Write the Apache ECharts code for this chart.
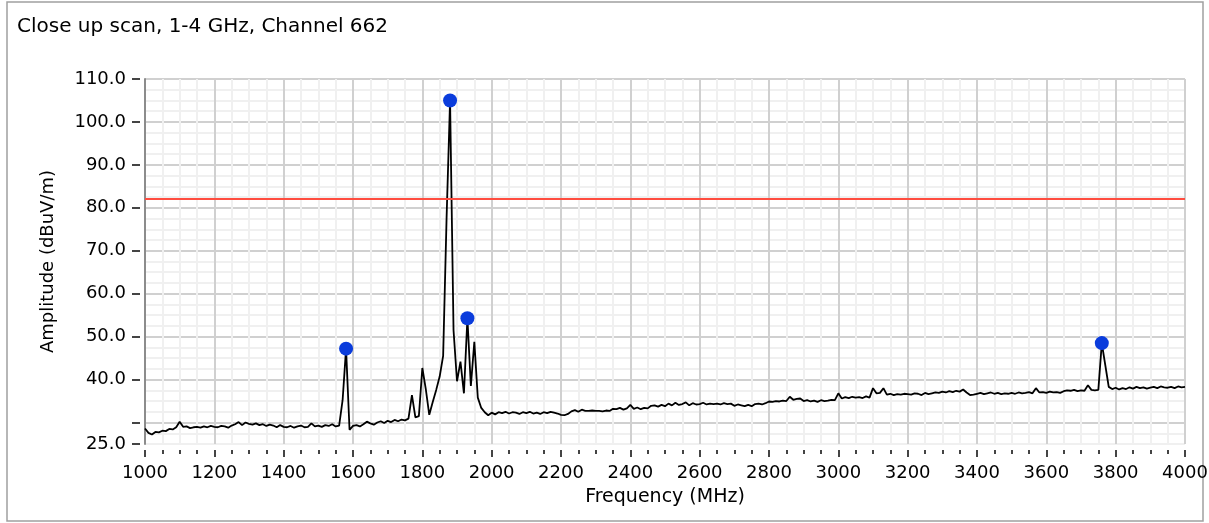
<!DOCTYPE html>
<html>
<head>
<meta charset="utf-8">
<script src="https://cdn.jsdelivr.net/npm/echarts@6/dist/echarts.min.js"></script>
<style>
  html, body { margin: 0; padding: 0; background: #fff; }
  #chart { width: 1209px; height: 523px; }
</style>
</head>
<body>
<div id="chart"></div>
<script>
const chartTitle = 'Close up scan, 1-4 GHz, Channel 662';
const xAxisName = 'Frequency (MHz)';
const yAxisName = 'Amplitude (dBuV/m)';
const yTickValues = [25, 30, 40, 50, 60, 70, 80, 90, 100, 110];
const yLabelValues = [25, 40, 50, 60, 70, 80, 90, 100, 110];
const limitLine = 82.2;

const freqStart = 1000;
const freqStep = 10;
const amplitude = [
  28.6, 27.6, 27.2, 27.8, 27.7, 28.1, 28.0, 28.5, 28.4, 28.9,
  30.2, 29.0, 29.1, 28.7, 28.9, 29.0, 28.8, 29.1, 28.9, 29.2,
  29.0, 28.9, 29.2, 29.1, 28.8, 29.3, 29.6, 30.1, 29.4, 30.0,
  29.7, 29.5, 29.8, 29.4, 29.6, 29.2, 29.5, 29.3, 28.9, 29.4,
  29.0, 28.9, 29.2, 28.8, 29.1, 29.3, 28.9, 29.0, 29.8, 29.1,
  29.3, 29.0, 29.4, 29.2, 29.6, 29.1, 29.3, 35.2, 47.2, 28.3,
  29.2, 29.4, 29.1, 29.6, 30.2, 29.8, 29.5, 30.0, 30.3, 29.9,
  30.4, 30.1, 30.6, 30.3, 30.7, 30.5, 30.9, 36.4, 31.2, 31.5,
  42.7, 37.8, 31.8, 34.8, 37.6, 40.7, 45.5, 77.8, 105.0, 51.5,
  39.6, 44.2, 36.8, 54.3, 38.5, 48.8, 35.8, 33.4, 32.4, 31.7,
  32.3, 31.9, 32.4, 32.2, 32.5, 32.1, 32.4, 32.3, 32.0, 32.4,
  32.2, 32.5, 32.1, 32.3, 32.0, 32.4, 32.2, 32.5, 32.3, 32.1,
  31.8, 31.7, 32.0, 32.6, 32.9, 32.5, 33.0, 32.7, 32.7, 32.8,
  32.7, 32.7, 32.6, 32.8, 32.7, 33.2, 33.1, 33.4, 33.0, 33.3,
  34.1, 33.2, 33.5, 33.1, 33.4, 33.3, 33.9, 34.0, 33.7, 34.1,
  33.8, 34.4, 34.0, 34.6, 34.1, 34.3, 34.7, 34.0, 34.5, 34.2,
  34.3, 34.6, 34.2, 34.4, 34.3, 34.4, 34.2, 34.5, 34.3, 34.4,
  33.9, 34.2, 34.0, 33.8, 34.1, 33.8, 34.3, 34.4, 34.2, 34.5,
  34.9, 34.8, 35.0, 34.9, 35.1, 35.0, 36.0, 35.3, 35.5, 35.6,
  35.0, 35.2, 34.9, 35.1, 34.8, 35.2, 35.0, 35.1, 35.3, 35.2,
  36.8, 35.6, 35.9, 35.7, 36.0, 35.8, 35.9, 35.7, 36.1, 35.8,
  38.0, 36.8, 36.9, 38.0, 36.5, 36.7, 36.4, 36.6, 36.5, 36.7,
  36.6, 36.5, 36.8, 36.7, 36.4, 36.9, 36.6, 36.8, 37.0, 36.9,
  37.2, 37.0, 37.3, 37.1, 37.4, 37.2, 37.7, 37.0, 36.4, 36.5,
  36.7, 36.9, 36.6, 36.8, 37.0, 36.7, 36.9, 36.6, 36.8, 36.7,
  36.9, 36.7, 37.0, 36.8, 36.9, 37.1, 36.8, 38.0, 37.0, 37.1,
  36.9, 37.2, 37.0, 37.1, 36.9, 37.3, 37.5, 37.4, 37.6, 37.3,
  37.5, 37.4, 38.7, 37.6, 37.5, 37.6, 48.5, 43.4, 38.3, 37.8,
  38.1, 37.7, 38.0, 37.8, 38.2, 37.9, 38.3, 38.0, 38.2, 37.9,
  38.1, 38.3, 38.0, 38.4, 38.2, 38.1, 38.3, 38.0, 38.4, 38.2,
  38.3
];
const markerFreq = [1580, 1880, 1930, 3760];
const markerAmp = [47.2, 105.0, 54.3, 48.5];

const FONT = 'DejaVu Sans';
const traceData = amplitude.map((a, i) => [freqStart + i * freqStep, a]);
const markerData = markerFreq.map((f, i) => [f, markerAmp[i]]);

const chart = echarts.init(document.getElementById('chart'), null, { renderer: 'canvas' });
chart.setOption({
  backgroundColor: '#ffffff',
  animation: false,
  textStyle: { fontFamily: FONT },
  title: {
    text: chartTitle,
    left: 17, top: 17, padding: 0,
    textStyle: { fontFamily: FONT, fontSize: 20, fontWeight: 'normal', color: '#000' }
  },
  graphic: [{
    type: 'rect', silent: true, z: -10,
    shape: { x: 7, y: 2, width: 1196, height: 519 },
    style: { fill: 'none', stroke: '#a0a0a0', lineWidth: 1.5 }
  }],
  grid: {
    left: 145, top: 79, width: 1040, height: 365,
    outerBoundsMode: 'none', containLabel: false,
    show: true, borderColor: '#9a9a9a', borderWidth: 1, backgroundColor: '#fff'
  },
  xAxis: {
    type: 'value', min: 1000, max: 4000, interval: 200, offset: 6,
    name: xAxisName, nameLocation: 'middle', nameGap: 38,
    nameTextStyle: { fontFamily: FONT, fontSize: 19, color: '#000' },
    axisLine: { show: false },
    axisTick: { show: true, length: 7, lineStyle: { color: '#444', width: 2 } },
    minorTick: { show: true, splitNumber: 4, length: 4, lineStyle: { color: '#444', width: 2 } },
    axisLabel: { margin: 14, formatter: v => String(v), fontFamily: FONT, fontSize: 18, color: '#000' },
    splitLine: { show: true, lineStyle: { color: '#d0d0d0', width: 2 } },
    minorSplitLine: { show: true, lineStyle: { color: '#f0f0f0', width: 2 } }
  },
  yAxis: [{
    type: 'value', min: 25, max: 110, interval: 2.5,
    axisLabel: { show: false }, axisTick: { show: false },
    axisLine: { show: true, lineStyle: { color: '#8c8c8c', width: 2 } },
    splitLine: { show: true, lineStyle: { color: ['#f0f0f0', '#f0f0f0', '#d0d0d0', '#f0f0f0'], width: 2 } }
  }, {
    type: 'value', position: 'left', min: 25, max: 110, interval: 5, offset: 5,
    axisLine: { show: false }, splitLine: { show: false },
    axisTick: { show: true, length: 8, customValues: yTickValues, lineStyle: { color: '#444', width: 2 } },
    axisLabel: { customValues: yLabelValues, formatter: v => Number(v).toFixed(1), margin: 14, fontFamily: FONT, fontSize: 18, color: '#000' },
    name: yAxisName, nameLocation: 'middle', nameGap: 83,
    nameTextStyle: { fontFamily: FONT, fontSize: 18, color: '#000' }
  }],
  series: [{
    type: 'line', yAxisIndex: 0, data: traceData, showSymbol: false,
    lineStyle: { color: '#000', width: 1.8 }, z: 3,
    markLine: {
      silent: true, symbol: 'none', label: { show: false },
      lineStyle: { color: '#ff4d40', width: 2, type: 'solid' },
      data: [{ yAxis: limitLine }]
    }
  }, {
    type: 'scatter', yAxisIndex: 0, data: markerData, symbol: 'circle', symbolSize: 14,
    itemStyle: { color: '#0a3cdc', opacity: 1 }, z: 4
  }]
});
</script>
</body>
</html>
